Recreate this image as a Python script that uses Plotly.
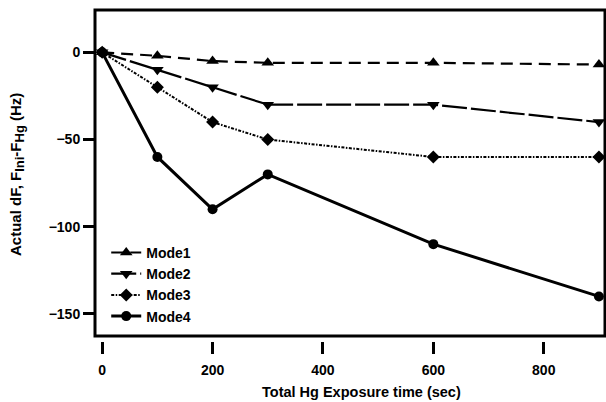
import plotly.graph_objects as go

time_sec = [0, 100, 200, 300, 600, 900]
mode1 = [0, -2, -5, -6, -6, -7]
mode2 = [0, -10, -20, -30, -30, -40]
mode3 = [0, -20, -40, -50, -60, -60]
mode4 = [0, -60, -90, -70, -110, -140]

series = [
    ("Mode1", mode1, "triangle-up", "12px,7px", 2.2, 11),
    ("Mode2", mode2, "triangle-down", "25px,4px", 2.2, 11),
    ("Mode3", mode3, "diamond", "3px,1.5px,1.5px,1.5px", 2, 10),
    ("Mode4", mode4, "circle", "solid", 3, 10),
]

fig = go.Figure()
for name, vals, sym, dash, w, ms in series:
    fig.add_trace(go.Scatter(
        x=time_sec, y=vals, name=name, mode="lines+markers",
        legendgroup=name, cliponaxis=False,
        line=dict(color="black", width=w, dash=dash),
        marker=dict(symbol=sym, size=ms, color="black"),
    ))

ydom0 = 5 / 331
fig.update_layout(
    width=606, height=402,
    margin=dict(l=95, r=1, t=10, b=61),
    paper_bgcolor="white", plot_bgcolor="white",
    font=dict(family="Liberation Sans, Arial", size=14, color="black", weight="bold"),
    showlegend=True,
    legend=dict(x=0.022, y=0.3145, xanchor="left", yanchor="top",
                bgcolor="rgba(0,0,0,0)", font=dict(size=14, weight="bold"),
                tracegroupgap=0, itemwidth=30),
    xaxis=dict(range=[-13, 911], tickvals=[0, 200, 400, 600, 800],
               ticks="outside", ticklen=12, tickwidth=2.5, tickcolor="black",
               showline=False, showgrid=False, zeroline=False,
               anchor="free", position=0, automargin=False,
               ticklabelstandoff=4,
               tickfont=dict(size=14, weight="bold")),
    yaxis=dict(domain=[ydom0, 1], range=[-162.7, 24.3],
               tickvals=[0, -50, -100, -150],
               ticks="outside", ticklen=11, tickwidth=2.5, tickcolor="black",
               showline=False, showgrid=False, zeroline=False, automargin=False,
               tickfont=dict(size=14, weight="bold")),
    shapes=[dict(type="rect", xref="paper", yref="paper", x0=0, x1=1,
                 y0=ydom0, y1=1, line=dict(color="black", width=3),
                 fillcolor="rgba(0,0,0,0)", layer="above")],
    annotations=[
        dict(text="Total Hg Exposure time (sec)", xref="paper", yref="paper",
             x=0.5235, y=-0.154, xanchor="center", yanchor="middle",
             showarrow=False, font=dict(size=14.5, weight="bold")),
        dict(text="Actual dF, F<sub><span style='font-size:13px'>Ini</span></sub>-F<sub><span style='font-size:13px'>Hg</span></sub> (Hz)",
             xref="paper", yref="paper",
             x=-0.153, y=0.5045, xanchor="center", yanchor="middle", textangle=-90,
             showarrow=False, font=dict(size=15, weight="bold")),
    ],
)

fig.write_html("out.html", config={"displayModeBar": False},
               post_script="document.body.style.margin='0px';document.body.style.padding='0px';")
